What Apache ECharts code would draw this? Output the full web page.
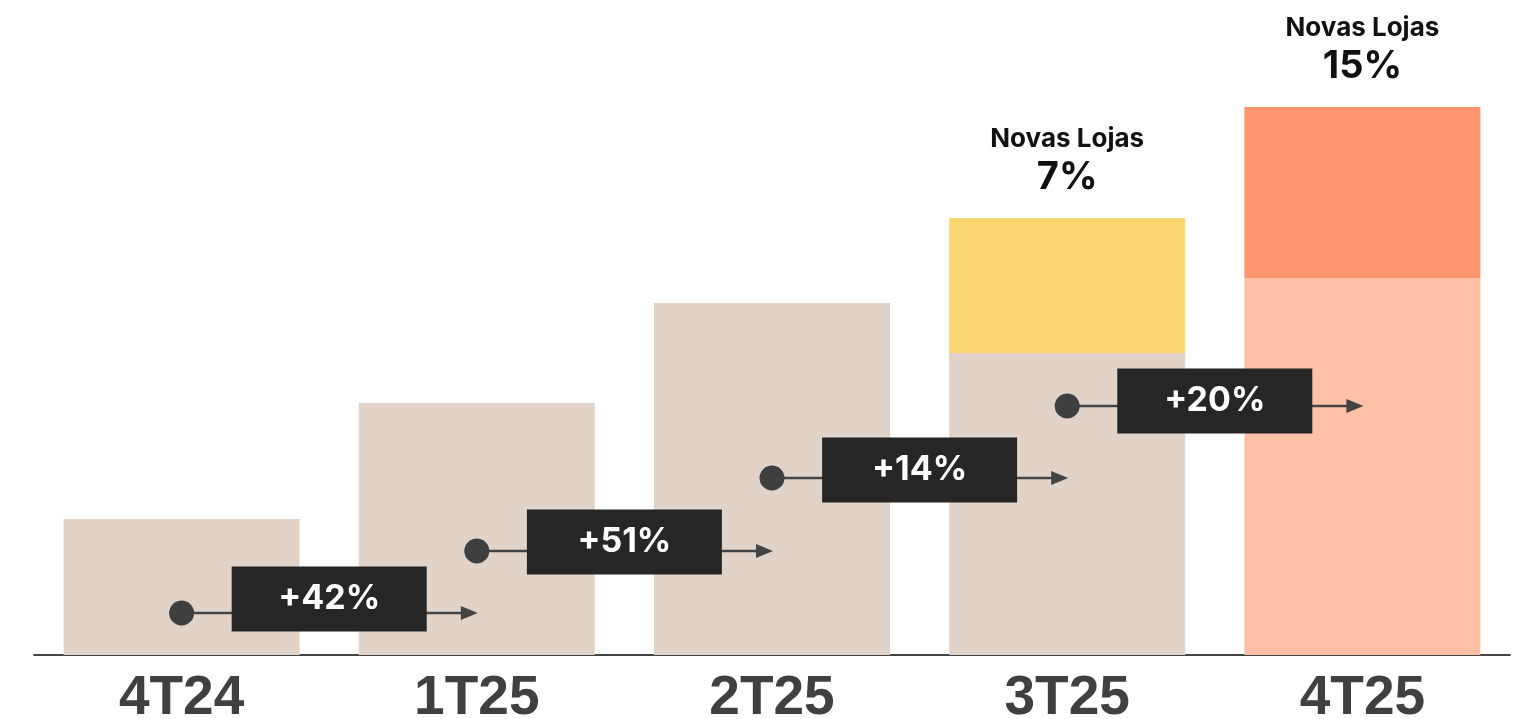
<!DOCTYPE html>
<html>
<head>
<meta charset="utf-8">
<script src="https://cdn.jsdelivr.net/npm/echarts@6/dist/echarts.min.js"></script>
<style>
  html, body { margin: 0; padding: 0; background: #fff; }
  #main { width: 1526px; height: 719px; }
</style>
</head>
<body>
<div id="main"></div>
<script>
// dados (unidades relativas)
const categories = ['4T24', '1T25', '2T25', '3T25', '4T25']
const baseValues = [136, 252, 352, 302, 377]
const newStoreValues = ['-', '-', '-', 135, 171]
const newStoreShare = ['', '', '', '7%', '15%']
const growthLabels = ['+42%', '+51%', '+14%', '+20%']
// nivel da seta e nivel do centro da caixa
const growthLevels = [42, 104, 177, 249]
const growthBoxLevels = [56, 113, 185, 254]

const baseColors = ['#E2D3C9', '#E2D3C9', '#E2D3C9', '#E2D3C9', '#FFC0A8']
const topColors = ['#FDD874', '#FDD874', '#FDD874', '#FDD874', '#FF9670']

const chart = echarts.init(document.getElementById('main'))

const option = {
  animation: false,
  grid: { left: 34, right: 16, top: 0, bottom: 64, outerBoundsMode: 'none', containLabel: false },
  xAxis: {
    type: 'category',
    data: categories,
    axisTick: { show: false },
    axisLine: { lineStyle: { color: '#444', width: 2 } },
    axisLabel: {
      color: '#404040',
      fontFamily: 'Liberation Sans',
      fontWeight: 'bold',
      fontSize: 55,
      margin: 16
    }
  },
  yAxis: {
    type: 'value',
    min: 0,
    max: 655,
    show: false,
    splitLine: { show: false }
  },
  series: [
    {
      type: 'bar',
      stack: 'total',
      barWidth: 236,
      data: baseValues.map((v, i) => ({ value: v, itemStyle: { color: baseColors[i] } }))
    },
    {
      type: 'bar',
      stack: 'total',
      barWidth: 236,
      data: newStoreValues.map((v, i) => ({ value: v, itemStyle: { color: topColors[i] } })),
      label: {
        show: true,
        position: 'top',
        distance: 18,
        formatter: (p) => newStoreShare[p.dataIndex] ? '{a|Novas Lojas}\n{b|' + newStoreShare[p.dataIndex] + '}' : '',
        rich: {
          a: { fontFamily: 'Inter', fontWeight: 'bold', fontSize: 26, color: '#111', lineHeight: 34 },
          b: { fontFamily: 'Inter', fontWeight: 'bold', fontSize: 38, color: '#111', lineHeight: 44 }
        }
      }
    },
    {
      type: 'custom',
      z: 10,
      data: growthLevels.map((v, i) => [i, v, growthBoxLevels[i]]),
      renderItem: (params, api) => {
        const i = api.value(0)
        const p0 = api.coord([i, api.value(1)])
        const p1 = api.coord([i + 1, api.value(1)])
        const boxY = api.coord([i, api.value(2)])[1]
        const mid = (p0[0] + p1[0]) / 2
        const boxW = 195
        const boxH = 65
        return {
          type: 'group',
          children: [
            {
              type: 'line',
              shape: { x1: p0[0], y1: p0[1], x2: p1[0] - 12, y2: p1[1] },
              style: { stroke: '#444', lineWidth: 2.5 }
            },
            {
              type: 'polygon',
              shape: { points: [[p1[0] - 16, p1[1] - 7], [p1[0] + 1, p1[1]], [p1[0] - 16, p1[1] + 7]] },
              style: { fill: '#444' }
            },
            {
              type: 'circle',
              shape: { cx: p0[0], cy: p0[1], r: 12.5 },
              style: { fill: '#3f3f3f' }
            },
            {
              type: 'rect',
              shape: { x: mid - boxW / 2, y: boxY - boxH / 2, width: boxW, height: boxH },
              style: { fill: '#262626' }
            },
            {
              type: 'text',
              x: mid,
              y: boxY,
              style: {
                text: growthLabels[params.dataIndex],
                fill: '#fff',
                fontFamily: 'Inter',
                fontWeight: 'bold',
                fontSize: 34,
                align: 'center',
                verticalAlign: 'middle'
              }
            }
          ]
        }
      }
    }
  ]
}

chart.setOption(option)
</script>
</body>
</html>
